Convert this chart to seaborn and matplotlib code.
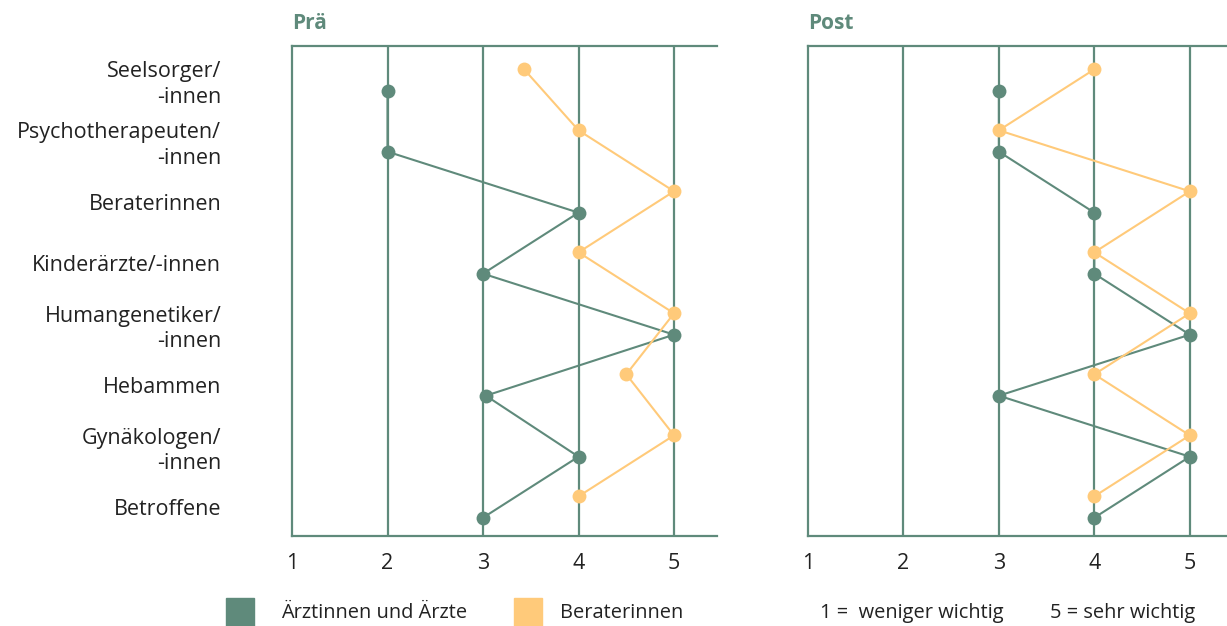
import matplotlib
matplotlib.use('Agg')
import matplotlib.pyplot as plt
import matplotlib.patches as mpatches
import seaborn as sns
import pandas as pd

# ===========================================================
# DATEN
# ===========================================================
categories = ["Seelsorger/\n-innen", "Psychotherapeuten/\n-innen", "Beraterinnen",
              "Kinderärzte/-innen", "Humangenetiker/\n-innen", "Hebammen",
              "Gynäkologen/\n-innen", "Betroffene"]

pre_aerzte    = [2, 2, 4, 3, 5, 3.03, 4, 3]
pre_berater   = [3.43, 4, 5, 4, 5, 4.5, 5, 4]
post_aerzte   = [3, 3, 4, 4, 5, 3, 5, 4]
post_berater  = [4, 3, 5, 4, 5, 4, 5, 4]

x_ticks = [1, 2, 3, 4, 5]
panel_titles = ["Prä", "Post"]
legend_labels = ["Ärztinnen und Ärzte", "Beraterinnen"]
scale_notes = ["1 =  weniger wichtig", "5 = sehr wichtig"]

GREEN  = "#5f8a7b"
ORANGE = "#ffca7a"
TEXT   = "#222222"
OFFSET = 0.175   # Abstand der beiden Reihen um die Kategorienmitte
FS     = 15.5
FS_LEG = 14.4

sns.set_style("white")
plt.rcParams['font.family'] = ['Open Sans', 'DejaVu Sans']


def make_df(aerzte, berater):
    rows = []
    for i, (a, b) in enumerate(zip(aerzte, berater)):
        rows.append({"wert": a, "pos": i + OFFSET, "gruppe": legend_labels[0]})
        rows.append({"wert": b, "pos": i - OFFSET, "gruppe": legend_labels[1]})
    return pd.DataFrame(rows)


fig = plt.figure(figsize=(12.27, 6.26), dpi=100)
ax_pre  = fig.add_axes([292 / 1227, 1 - 536 / 626, 425 / 1227, 490 / 626])
ax_post = fig.add_axes([808 / 1227, 1 - 536 / 626, 419 / 1227, 490 / 626])

panels = [(ax_pre, pre_aerzte, pre_berater, 5.45),
          (ax_post, post_aerzte, post_berater, 5.39)]

for k, (ax, aerzte, berater, xmax) in enumerate(panels):
    df = make_df(aerzte, berater)
    for x in x_ticks[1:]:
        ax.axvline(x, color=GREEN, lw=1.6, zorder=0)
    sns.lineplot(data=df, x="wert", y="pos", hue="gruppe",
                 palette={legend_labels[0]: GREEN, legend_labels[1]: ORANGE},
                 estimator=None, sort=False, marker="o", markersize=10,
                 markeredgewidth=0, linewidth=1.5, legend=False, ax=ax, zorder=3)
    ax.set_xlim(1, xmax)
    ax.set_ylim(len(categories) - 1 + 0.475, -0.557)
    ax.set_xlabel("")
    ax.set_ylabel("")
    ax.set_xticks(x_ticks)
    ax.set_xticklabels([str(t) for t in x_ticks], fontsize=FS, color=TEXT)
    ax.tick_params(axis='x', length=5, width=1.6, color=GREEN, pad=7)
    for side in ["top", "left", "bottom"]:
        ax.spines[side].set_color(GREEN)
        ax.spines[side].set_linewidth(1.6)
    ax.spines["right"].set_visible(False)
    ax.text(0, 1.025, panel_titles[k], transform=ax.transAxes, fontsize=15,
            fontweight='bold', color=GREEN, ha='left', va='bottom')
    if k == 0:
        ax.set_yticks(range(len(categories)))
        ax.set_yticklabels(categories, fontsize=FS, color=TEXT)
        ax.tick_params(axis='y', length=0, pad=51)
        for lab in ax.get_yticklabels():
            lab.set_linespacing(1.3)
    else:
        ax.set_yticks([])

# ===========================================================
# LEGENDE
# ===========================================================
ly = 1 - 613 / 626
fig.patches.append(mpatches.Rectangle((226 / 1227, 0), 28 / 1227, 28 / 626,
                                      transform=fig.transFigure, color=GREEN))
fig.patches.append(mpatches.Rectangle((514 / 1227, 0), 28 / 1227, 28 / 626,
                                      transform=fig.transFigure, color=ORANGE))
fig.text(281 / 1227, ly, legend_labels[0], fontsize=FS_LEG, color=TEXT, va='center')
fig.text(560 / 1227, ly, legend_labels[1], fontsize=FS_LEG, color=TEXT, va='center')
fig.text(820 / 1227, ly, scale_notes[0], fontsize=FS_LEG, color=TEXT, va='center')
fig.text(1050 / 1227, ly, scale_notes[1], fontsize=FS_LEG, color=TEXT, va='center')

plt.savefig("out.png", dpi=100)
